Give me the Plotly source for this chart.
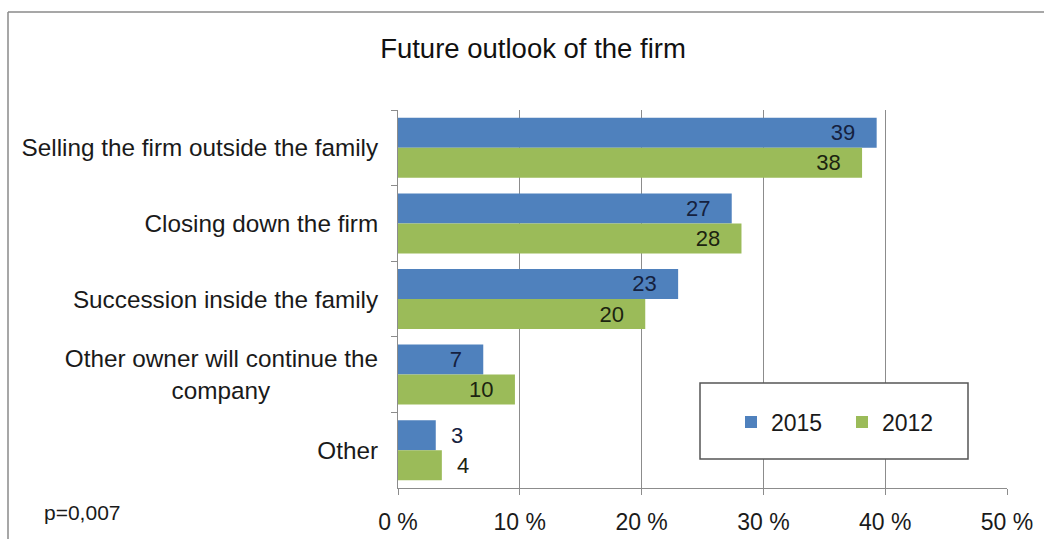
import plotly.graph_objects as go

categories = [
    "Selling the firm outside the family",
    "Closing down the firm",
    "Succession inside the family",
    "Other owner will continue the<br>company" + "\u00a0" * 16,
    "Other",
]
values_2015 = [39.3, 27.4, 23.0, 7.0, 3.1]
values_2012 = [38.1, 28.2, 20.3, 9.6, 3.6]
label_pos = ["inside", "inside", "inside", "inside", "outside"]
x_ticks = [0, 10, 20, 30, 40, 50]
x_tick_labels = ["0 %", "10 %", "20 %", "30 %", "40 %", "50 %"]

FONT = "Liberation Sans, Arial, sans-serif"
TXT = "#1a1a1a"
PAD_IN = "%{x:.0f}" + "\u00a0" * 3
PAD_OUT = "\u00a0\u00a0%{x:.0f}"
templates = [PAD_IN if p == "inside" else PAD_OUT for p in label_pos]

fig = go.Figure()
fig.add_trace(go.Bar(
    name="2015", y=categories, x=values_2015, orientation="h",
    marker=dict(color="#4F81BD", line=dict(width=0)),
    texttemplate=templates, textposition=label_pos, insidetextanchor="end",
    constraintext="none", textangle=0, cliponaxis=False,
    textfont=dict(family=FONT, size=22, color="#15213f"),
))
fig.add_trace(go.Bar(
    name="2012", y=categories, x=values_2012, orientation="h",
    marker=dict(color="#9BBB59", line=dict(width=0)),
    texttemplate=templates, textposition=label_pos, insidetextanchor="end",
    constraintext="none", textangle=0, cliponaxis=False,
    textfont=dict(family=FONT, size=22, color="#1c2410"),
))

L, R, T, B = 398, 1007, 110, 488
W, H = 1044, 539
def px(x):
    return (x - L) / (R - L)
def py(y):
    return (B - y) / (B - T)

fig.update_layout(
    width=W, height=H,
    margin=dict(l=L, r=W - R, t=T, b=H - B, autoexpand=False),
    paper_bgcolor="white", plot_bgcolor="white",
    barmode="group", bargap=0.206, bargroupgap=0,
    font=dict(family=FONT, color=TXT),
    title=dict(text="Future outlook of the firm", x=533 / W, xref="container",
               xanchor="center", y=1 - 48 / H, yref="container", yanchor="middle",
               font=dict(family=FONT, size=27.5, color="#111")),
    showlegend=True,
    legend=dict(orientation="h", x=px(731), y=py(422), xanchor="left", yanchor="middle",
                xref="paper", yref="paper", bgcolor="rgba(0,0,0,0)",
                font=dict(family=FONT, size=23, color=TXT),
                entrywidth=66, traceorder="normal"),
    xaxis=dict(range=[0, 50], tickvals=x_ticks, ticktext=x_tick_labels,
               automargin=False,
               showgrid=True, gridcolor="#8c8c8c", gridwidth=1,
               zeroline=False, showline=True, linecolor="#8c8c8c", linewidth=1,
               ticks="outside", ticklen=6, tickcolor="#8c8c8c",
               tickfont=dict(family=FONT, size=23, color=TXT), ticklabelstandoff=7),
    yaxis=dict(autorange="reversed", showgrid=False, zeroline=False, automargin=False,
               showline=True, linecolor="#8c8c8c", linewidth=1,
               ticks="outside", ticklen=6, tickcolor="#8c8c8c", tickson="boundaries",
               tickfont=dict(family=FONT, size=24.3, color=TXT), ticklabelstandoff=14),
    shapes=[
        dict(type="rect", xref="paper", yref="paper", x0=px(700), x1=px(968),
             y0=py(459), y1=py(383), line=dict(color="#555555", width=1.5),
             fillcolor="white", layer="above"),
        dict(type="line", xref="paper", yref="paper", x0=px(8), x1=px(1060),
             y0=py(12), y1=py(12), line=dict(color="#8a8a8a", width=1.5)),
        dict(type="line", xref="paper", yref="paper", x0=px(8), x1=px(8),
             y0=py(12), y1=py(560), line=dict(color="#8a8a8a", width=1.5)),
    ],
    annotations=[
        dict(text="p=0,007", xref="paper", yref="paper", x=px(42), y=py(512),
             xanchor="left", yanchor="middle", showarrow=False,
             font=dict(family=FONT, size=21, color=TXT)),
    ],
)

fig.write_html("out.html")
